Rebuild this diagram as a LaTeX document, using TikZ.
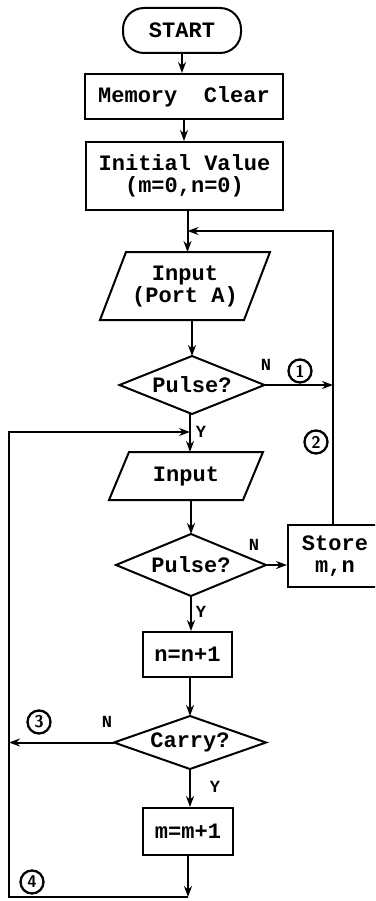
\documentclass[tikz,border=0pt]{standalone}
\usepackage{fontspec}
\setmonofont{Liberation Mono}
\usetikzlibrary{arrows.meta,calc}
\begin{document}
\begin{tikzpicture}[x=1pt,y=-1pt,
  line width=2pt,
  every node/.style={inner sep=0pt,align=center},
  txt/.style={font=\ttfamily\bfseries\fontsize{22}{22}\selectfont},
  lab/.style={font=\ttfamily\bfseries\fontsize{17}{17}\selectfont},
  circ/.style={draw,circle,minimum size=23pt,line width=2.3pt,
    font=\sffamily\bfseries\fontsize{17}{17}\selectfont},
  arr/.style={-{Stealth[length=11pt,width=8pt]}}
]
\useasboundingbox (0,0) rectangle (375,901);
\clip (0,0) rectangle (375,901);

% process boxes
\node[txt,draw,rounded corners=21pt,minimum width=118pt,minimum height=45pt] (start) at (182,30.5) {START};
\node[txt,draw,minimum width=198pt,minimum height=45pt] (mem) at (184,96.5) {Memory~~Clear};
\node[txt,draw,minimum width=197pt,minimum height=68pt] (init) at (184.5,176) {Initial Value\\(m=0,n=0)};

% input (port A) parallelogram
\node[txt,minimum width=168pt,minimum height=66pt] (inA) at (185,286) {Input\\(Port A)};
\draw ([xshift=26pt]inA.north west) -- (inA.north east) -- ([xshift=-26pt]inA.south east) -- (inA.south west) -- cycle;

% first pulse test
\node[txt,minimum width=143pt,minimum height=56pt] (d1) at (192,385) {Pulse?};
\draw (d1.north) -- (d1.east) -- (d1.south) -- (d1.west) -- cycle;

% second input parallelogram
\node[txt,minimum width=152pt,minimum height=46pt] (in2) at (186,476) {Input};
\draw ([xshift=20pt]in2.north west) -- (in2.north east) -- ([xshift=-20pt]in2.south east) -- (in2.south west) -- cycle;

% second pulse test
\node[txt,minimum width=148pt,minimum height=60pt] (d2) at (191,565) {Pulse?};
\draw (d2.north) -- (d2.east) -- (d2.south) -- (d2.west) -- cycle;

\node[txt,draw,minimum width=94pt,minimum height=62pt] (store) at (335,556) {Store\\m,n};
\node[txt,draw,minimum width=89pt,minimum height=45pt] (n1) at (187.5,654.5) {n=n+1};

% carry test
\node[txt,minimum width=150pt,minimum height=51pt] (d3) at (190,742.5) {Carry?};
\draw (d3.north) -- (d3.east) -- (d3.south) -- (d3.west) -- cycle;

\node[txt,draw,minimum width=90pt,minimum height=47pt] (m1) at (188,831.5) {m=m+1};

% routing points
\coordinate (topR) at (333,231);
\coordinate (yj) at (190,432);
\coordinate (bl) at (9,897);
\coordinate (br) at (188,897);

% main column
\draw[arr] (start.south) -- (start.south |- mem.north);
\draw[arr] (mem.south) -- (mem.south |- init.north);
\draw[arr] ([xshift=3pt]init.south) -- ([xshift=3pt]init.south |- inA.north);
\draw[arr] (d1.north |- inA.south) -- (d1.north);
\draw[arr] (yj |- d1.south) -- (yj |- in2.north);
\draw[arr] (d2.north |- in2.south) -- (d2.north);
\draw[arr] (d2.south) -- (d2.south |- n1.north);
\draw[arr] (d3.north |- n1.south) -- (d3.north);
\draw[arr] (d3.south) -- (d3.south |- m1.north);
\draw[arr] (m1.south) -- (br);

% side branches
\draw[arr] (store.north -| topR) -- (topR) -- ([xshift=3pt]topR -| init.south);
\draw[arr] (d1.east) -- (d1.east -| topR);
\draw[arr] (d2.east) -- (d2.east -| store.west);
\draw[arr] (d3.west) -- (d3.west -| bl);
\draw[arr] (br) -- (bl) -- (bl |- yj) -- (yj);

% branch labels
\node[lab] (nA) at (266,365) {N};
\node[lab] (yA) at (201,432) {Y};
\node[lab] (nB) at (254,545) {N};
\node[lab] (yB) at (201,612) {Y};
\node[lab] (nC) at (107,722) {N};
\node[lab] (yC) at (215,787) {Y};

% circled markers
\node[circ] (c1) at (300,371) {1};
\node[circ] (c2) at (316,442) {2};
\node[circ] (c3) at (39,722) {3};
\node[circ] (c4) at (32,882) {4};
\end{tikzpicture}
\end{document}
